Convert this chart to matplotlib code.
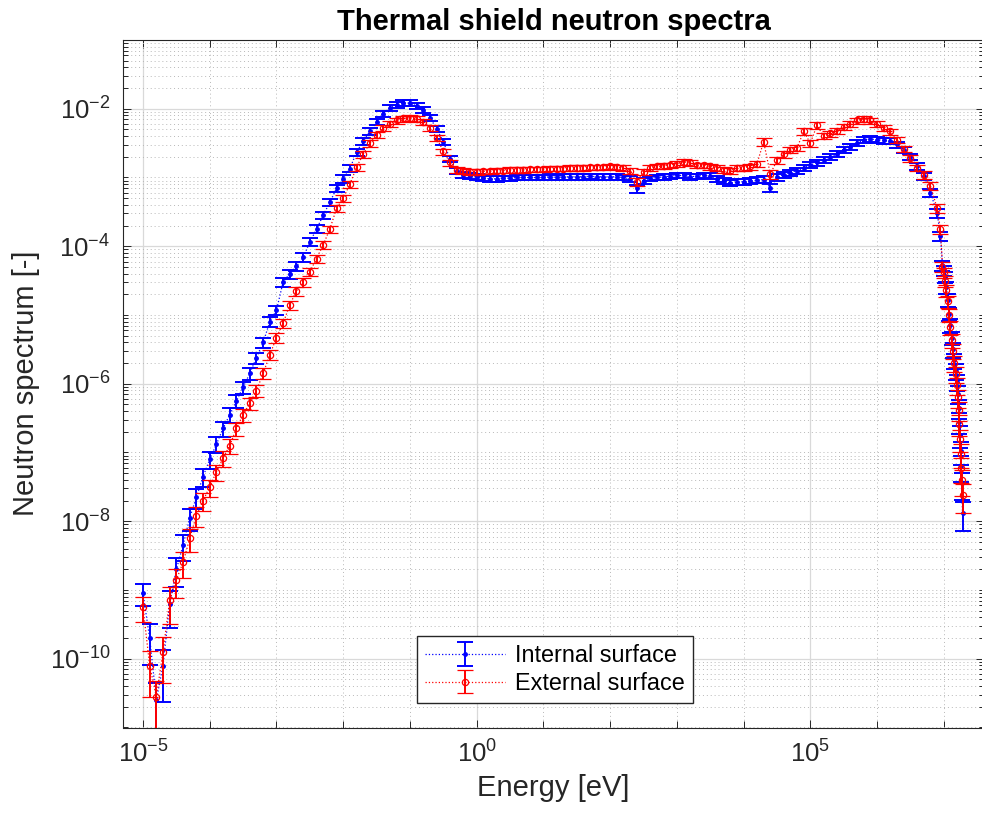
import numpy as np
import matplotlib
matplotlib.use("Agg")
import matplotlib.pyplot as plt
from matplotlib.ticker import FixedLocator, LogLocator, NullFormatter, LogFormatterSciNotation

# ---------------- data (log10 values) ----------------
log_energy = [
    -5.0, -4.9, -4.8, -4.7, -4.6, -4.5, -4.4, -4.3, -4.2, -4.1,
    -4.0, -3.9, -3.8, -3.7, -3.6, -3.5, -3.4, -3.3, -3.2, -3.1,
    -3.0, -2.9, -2.8, -2.7, -2.6, -2.5, -2.4, -2.3, -2.2, -2.1,
    -2.0, -1.9, -1.8, -1.7, -1.6, -1.5, -1.4, -1.3, -1.2, -1.1,
    -1.0, -0.9, -0.8, -0.7, -0.6, -0.5, -0.4, -0.3, -0.2, -0.1,
    0.0, 0.1, 0.2, 0.3, 0.4, 0.5, 0.6, 0.7, 0.8, 0.9,
    1.0, 1.1, 1.2, 1.3, 1.4, 1.5, 1.6, 1.7, 1.8, 1.9,
    2.0, 2.1, 2.2, 2.3, 2.4, 2.5, 2.6, 2.7, 2.8, 2.9,
    3.0, 3.1, 3.2, 3.3, 3.4, 3.5, 3.6, 3.7, 3.8, 3.9,
    4.0, 4.1, 4.2, 4.3, 4.4, 4.5, 4.6, 4.7, 4.8, 4.9,
    5.0, 5.1, 5.2, 5.3, 5.4, 5.5, 5.6, 5.7, 5.8, 5.9,
    6.0, 6.1, 6.2, 6.3, 6.4, 6.5, 6.6, 6.7, 6.8, 6.9,
    6.95, 6.98, 7.00, 7.02, 7.04, 7.06, 7.08, 7.10, 7.12, 7.14,
    7.16, 7.18, 7.20, 7.21, 7.22, 7.23, 7.24, 7.25, 7.26, 7.27, 7.28,
]

log_internal = [
    -9.05, -9.70, -10.60, -10.10, -9.20, -8.70, -8.35, -7.95, -7.65, -7.35,
    -7.10, -6.88, -6.65, -6.45, -6.25, -6.05, -5.85, -5.62, -5.40, -5.10,
    -4.93, -4.52, -4.40, -4.29, -4.16, -3.94, -3.75, -3.55, -3.36, -3.16,
    -3.02, -2.87, -2.63, -2.47, -2.33, -2.19, -2.07, -1.99, -1.94, -1.91,
    -1.92, -1.96, -2.02, -2.13, -2.29, -2.48, -2.73, -2.90, -2.96, -2.98,
    -2.99, -3.01, -3.02, -3.02, -3.01, -3.01, -3.00, -3.00, -3.00, -3.00,
    -3.00, -2.99, -3.00, -2.99, -2.99, -2.99, -2.99, -2.98, -2.99, -2.99,
    -2.99, -2.99, -3.00, -3.02, -3.16, -3.05, -3.01, -3.00, -2.99, -2.98,
    -2.97, -2.97, -2.99, -2.98, -2.97, -2.98, -3.02, -3.05, -3.08, -3.07,
    -3.06, -3.05, -3.04, -3.03, -3.15, -3.00, -2.96, -2.93, -2.90, -2.86,
    -2.82, -2.78, -2.74, -2.70, -2.66, -2.60, -2.55, -2.50, -2.45, -2.44,
    -2.45, -2.46, -2.47, -2.52, -2.60, -2.70, -2.84, -2.98, -3.22, -3.52,
    -3.85, -4.28, -4.35, -4.45, -4.60, -4.78, -4.98, -5.15, -5.33, -5.50,
    -5.66, -5.82, -5.97, -6.15, -6.35, -6.55, -6.75, -6.98, -7.20, -7.45, -7.88,
]

log_external = [
    -9.25, -10.10, -10.55, -9.90, -9.15, -8.85, -8.60, -8.25, -7.92, -7.70,
    -7.50, -7.28, -7.08, -6.90, -6.65, -6.45, -6.28, -6.10, -5.85, -5.58,
    -5.33, -5.12, -4.85, -4.65, -4.52, -4.37, -4.18, -3.98, -3.75, -3.45,
    -3.30, -3.10, -2.85, -2.66, -2.50, -2.38, -2.28, -2.22, -2.17, -2.14,
    -2.13, -2.15, -2.19, -2.28, -2.42, -2.62, -2.78, -2.89, -2.91, -2.92,
    -2.92, -2.91, -2.91, -2.90, -2.90, -2.89, -2.89, -2.89, -2.88, -2.88,
    -2.88, -2.87, -2.87, -2.87, -2.86, -2.86, -2.86, -2.85, -2.85, -2.85,
    -2.84, -2.85, -2.86, -2.90, -3.06, -2.92, -2.86, -2.84, -2.83, -2.82,
    -2.80, -2.77, -2.79, -2.82, -2.82, -2.84, -2.86, -2.89, -2.90, -2.86,
    -2.86, -2.84, -2.80, -2.48, -2.95, -2.75, -2.66, -2.60, -2.57, -2.33,
    -2.50, -2.24, -2.40, -2.36, -2.32, -2.27, -2.22, -2.17, -2.15, -2.17,
    -2.22, -2.28, -2.33, -2.45, -2.58, -2.72, -2.86, -2.96, -3.12, -3.45,
    -3.75, -4.30, -4.38, -4.50, -4.64, -4.80, -5.00, -5.18, -5.36, -5.52,
    -5.70, -5.86, -6.02, -6.20, -6.38, -6.58, -6.80, -7.02, -7.22, -7.40, -7.62,
]

# relative (1-sigma) uncertainty of each point
rel_err_internal = [
    0.35, 0.60, 0.75, 0.70, 0.55, 0.45, 0.40, 0.35, 0.32, 0.30,
    0.28, 0.26, 0.25, 0.24, 0.22, 0.20, 0.19, 0.18, 0.17, 0.16,
    0.16, 0.15, 0.15, 0.14, 0.14, 0.13, 0.13, 0.12, 0.12, 0.12,
    0.12, 0.11, 0.11, 0.11, 0.11, 0.10, 0.10, 0.10, 0.10, 0.10,
    0.10, 0.10, 0.10, 0.10, 0.10, 0.10, 0.10, 0.10, 0.10, 0.10,
    0.09, 0.09, 0.09, 0.09, 0.09, 0.09, 0.09, 0.09, 0.09, 0.09,
    0.09, 0.09, 0.09, 0.09, 0.09, 0.09, 0.09, 0.09, 0.09, 0.09,
    0.09, 0.09, 0.09, 0.10, 0.14, 0.10, 0.09, 0.09, 0.09, 0.09,
    0.09, 0.09, 0.09, 0.09, 0.09, 0.10, 0.10, 0.10, 0.10, 0.10,
    0.10, 0.10, 0.10, 0.11, 0.14, 0.11, 0.10, 0.10, 0.10, 0.10,
    0.10, 0.10, 0.10, 0.10, 0.10, 0.10, 0.10, 0.10, 0.10, 0.10,
    0.10, 0.10, 0.10, 0.10, 0.10, 0.11, 0.11, 0.12, 0.13, 0.15,
    0.16, 0.17, 0.17, 0.18, 0.19, 0.20, 0.21, 0.22, 0.23, 0.24,
    0.25, 0.26, 0.27, 0.29, 0.31, 0.33, 0.35, 0.38, 0.40, 0.42, 0.45,
]

rel_err_external = [
    0.40, 0.65, 0.70, 0.65, 0.55, 0.45, 0.40, 0.36, 0.32, 0.30,
    0.28, 0.26, 0.25, 0.24, 0.22, 0.21, 0.20, 0.19, 0.18, 0.17,
    0.16, 0.16, 0.15, 0.15, 0.14, 0.14, 0.13, 0.13, 0.12, 0.12,
    0.12, 0.12, 0.11, 0.11, 0.11, 0.11, 0.10, 0.10, 0.10, 0.10,
    0.10, 0.10, 0.10, 0.10, 0.10, 0.10, 0.10, 0.10, 0.10, 0.10,
    0.09, 0.09, 0.09, 0.09, 0.09, 0.09, 0.09, 0.09, 0.09, 0.09,
    0.09, 0.09, 0.09, 0.09, 0.09, 0.09, 0.09, 0.09, 0.09, 0.09,
    0.09, 0.09, 0.09, 0.10, 0.14, 0.10, 0.09, 0.09, 0.09, 0.09,
    0.09, 0.09, 0.09, 0.09, 0.09, 0.10, 0.10, 0.10, 0.10, 0.10,
    0.10, 0.10, 0.10, 0.12, 0.14, 0.12, 0.11, 0.11, 0.11, 0.12,
    0.11, 0.12, 0.10, 0.10, 0.10, 0.10, 0.10, 0.10, 0.10, 0.10,
    0.10, 0.10, 0.10, 0.10, 0.10, 0.11, 0.11, 0.12, 0.13, 0.15,
    0.16, 0.17, 0.17, 0.18, 0.19, 0.20, 0.21, 0.22, 0.23, 0.24,
    0.25, 0.26, 0.27, 0.29, 0.31, 0.33, 0.35, 0.38, 0.40, 0.42, 0.45,
]

x_major_ticks = [1e-5, 1e0, 1e5]
y_major_ticks = [1e-10, 1e-8, 1e-6, 1e-4, 1e-2]
x_limits = (5e-6, 4e7)
y_limits = (1e-11, 1e-1)

# ---------------- style ----------------
plt.rcParams["font.family"] = ["Liberation Sans", "DejaVu Sans"]
plt.rcParams["mathtext.fontset"] = "custom"
plt.rcParams["mathtext.rm"] = "Liberation Sans"
plt.rcParams["mathtext.it"] = "Liberation Sans:italic"
plt.rcParams["mathtext.bf"] = "Liberation Sans:bold"
plt.rcParams["axes.unicode_minus"] = False

energy = 10.0 ** np.array(log_energy)
internal = 10.0 ** np.array(log_internal)
external = 10.0 ** np.array(log_external)
internal_err = internal * np.array(rel_err_internal)
external_err = external * np.array(rel_err_external)

W, H = 982, 816
fig = plt.figure(figsize=(W / 100, H / 100), dpi=100)
ax_left, ax_right, ax_top, ax_bottom = 122.9, 984.0, 40.0, 727.5
ax = fig.add_axes([ax_left / W, 1 - ax_bottom / H,
                   (ax_right - ax_left) / W, (ax_bottom - ax_top) / H])
ax.set_xscale("log")
ax.set_yscale("log")

ax.errorbar(energy, internal, yerr=internal_err, fmt=".", linestyle=":",
            color="#0000ff", markersize=5, linewidth=0.9,
            elinewidth=1.4, capsize=6, capthick=1.4,
            label="Internal surface", zorder=3)
ax.errorbar(energy, external, yerr=external_err, fmt="o", linestyle=":",
            color="#ff0000", markersize=4.5, markerfacecolor="none",
            markeredgewidth=0.9, linewidth=0.9,
            elinewidth=1.4, capsize=6, capthick=1.4,
            label="External surface", zorder=4)

ax.set_xlim(*x_limits)
ax.set_ylim(*y_limits)

ax.xaxis.set_major_locator(FixedLocator(x_major_ticks))
ax.xaxis.set_minor_locator(LogLocator(base=10, subs=(1.0,), numticks=100))
ax.yaxis.set_major_locator(FixedLocator(y_major_ticks))
ax.yaxis.set_minor_locator(LogLocator(base=10, subs=(1, 2, 3, 4, 5, 6, 7, 8, 9), numticks=100))
ax.xaxis.set_major_formatter(LogFormatterSciNotation())
ax.yaxis.set_major_formatter(LogFormatterSciNotation())
ax.xaxis.set_minor_formatter(NullFormatter())
ax.yaxis.set_minor_formatter(NullFormatter())

ax.set_axisbelow(True)
ax.grid(which="major", color="#d9d9d9", linewidth=0.9, linestyle="-")
ax.grid(which="minor", color="#b8b8b8", linewidth=0.7, linestyle=(0, (1, 3)))

tick_color = "#262626"
ax.tick_params(which="both", direction="in", top=True, right=True,
               colors=tick_color, width=0.7)
ax.tick_params(which="major", length=6, labelsize=18.5, pad=9)
ax.tick_params(axis="x", which="minor", length=5)
ax.tick_params(axis="y", which="minor", length=3.5)
for s in ax.spines.values():
    s.set_color(tick_color)
    s.set_linewidth(0.8)

ax.set_xlabel("Energy [eV]", fontsize=21, color=tick_color, labelpad=5)
ax.set_ylabel("Neutron spectrum [-]", fontsize=21, color=tick_color, labelpad=7)
ax.set_title("Thermal shield neutron spectra", fontsize=21,
             fontweight="bold", pad=7, color="black")

leg = ax.legend(loc="lower center", bbox_to_anchor=(555 / W, 1 - 703 / H),
                bbox_transform=fig.transFigure, fontsize=16.8, frameon=True,
                fancybox=False, edgecolor="#262626", framealpha=1,
                handlelength=3.4, handletextpad=0.45, borderpad=0.35,
                labelspacing=0.2, borderaxespad=0)
leg.get_frame().set_linewidth(1.0)

fig.savefig("out.png", dpi=100)
